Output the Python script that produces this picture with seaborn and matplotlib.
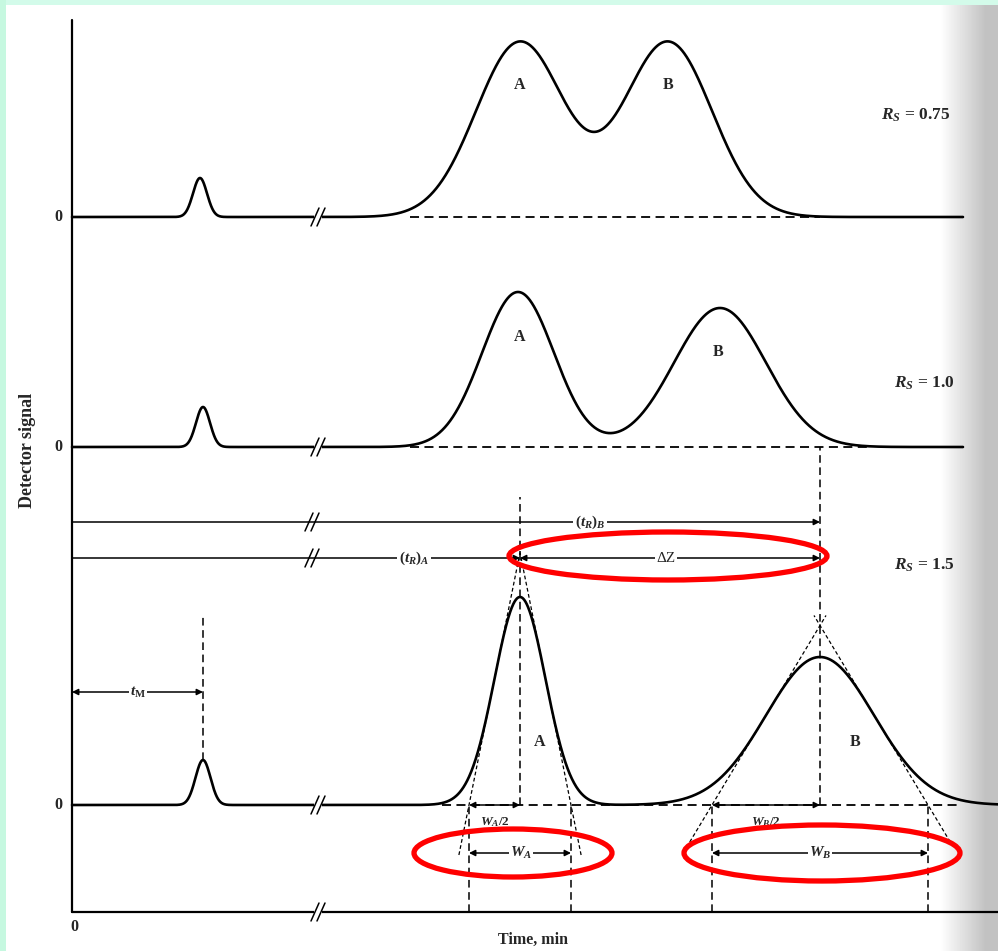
import numpy as np
import pandas as pd
import matplotlib
matplotlib.use("Agg")
import matplotlib.pyplot as plt
import seaborn as sns
from matplotlib.patches import Ellipse, Rectangle

# ---------------- data (time units, signal units) ----------------
rs_values = ["0.75", "1.0", "1.5"]
trace_baseline = [69.5, 46.5, 10.7]      # vertical offset of each chromatogram
void_time = [12.8, 13.1, 13.1]
void_height = [3.9, 4.0, 4.5]
void_sd = [0.7, 0.7, 0.75]
peakA_time = [44.8, 44.6, 44.8]
peakA_height = [17.5, 15.5, 20.8]
peakA_sd = [4.4, 3.6, 2.55]
peakB_time = [59.6, 64.8, 74.8]
peakB_height = [17.5, 13.9, 14.8]
peakB_sd = [4.4, 4.6, 5.4]
trace_end = [89.1, 89.1, 92.6]

# ---------------- style ----------------
sns.set_style("white")
plt.rcParams["font.family"] = ["Liberation Serif", "DejaVu Serif"]
plt.rcParams["mathtext.fontset"] = "custom"
plt.rcParams["mathtext.rm"] = "Liberation Serif:bold"
plt.rcParams["mathtext.it"] = "Liberation Serif:italic:bold"
plt.rcParams["mathtext.bf"] = "Liberation Serif:bold"

W, H = 998, 951
fig = plt.figure(figsize=(W / 100, H / 100), dpi=100)
fig.patch.set_facecolor("white")

# scanned page edge (grey) on the right
gax = fig.add_axes([0, 0, 1, 1], zorder=0)
xs = np.arange(W)
g = np.clip((xs - 940) / 45.0, 0, 1)
grad = np.tile(1 - 0.24 * g, (2, 1))
gax.imshow(grad, cmap="gray", vmin=0, vmax=1, aspect="auto", extent=[0, W, H, 0])
gax.set_axis_off()

ax = fig.add_axes([0, 0, 1, 1], zorder=1)
ax.patch.set_alpha(0)
# 1 unit = 10 px, origin at chart origin
ax.set_xlim(-7.2, 92.6)
ax.set_ylim(-3.9, 91.2)
ax.set_axis_off()

LW = 1.9
THIN = 1.1
DASH = (0, (5, 3))
FS = 11.5

# ---------------- chromatograms via seaborn ----------------
def gauss(t, c, h, s):
    return h * np.exp(-0.5 * ((t - c) / s) ** 2)

frames = []
for i in range(3):
    t = np.linspace(0, trace_end[i], 3000)
    sig = (trace_baseline[i]
           + gauss(t, void_time[i], void_height[i], void_sd[i])
           + gauss(t, peakA_time[i], peakA_height[i], peakA_sd[i])
           + gauss(t, peakB_time[i], peakB_height[i], peakB_sd[i]))
    frames.append(pd.DataFrame({"time": t, "signal": sig, "trace": rs_values[i]}))
df = pd.concat(frames, ignore_index=True)
sns.lineplot(data=df, x="time", y="signal", units="trace", estimator=None,
             color="black", lw=LW, sort=False, ax=ax, legend=False)

# dashed baselines under peaks
dash_ranges = [(33.8, 74.8), (33.8, 79.8), (37.0, 89.0)]
for i, (a, b) in enumerate(dash_ranges):
    ax.plot([a, b], [trace_baseline[i]] * 2, color="black", lw=1.3, ls=DASH, zorder=1)

# axes lines
ax.plot([0, 0], [0, 89.2], color="black", lw=1.6)
ax.plot([0, 92.6], [0, 0], color="black", lw=1.6)

def brk(x, y):
    ax.add_patch(Rectangle((x - 0.4, y - 0.5), 0.8, 1.0, fc="white", ec="none", zorder=3))
    for dx in (-0.3, 0.3):
        ax.plot([x + dx - 0.4, x + dx + 0.4], [y - 0.9, y + 0.9], color="black", lw=1.1, zorder=4)

for y in trace_baseline + [0]:
    brk(24.6, y)

# zero labels
for y in trace_baseline:
    ax.text(-1.4, y, "0", ha="center", va="center", fontsize=FS, fontweight="bold")
ax.text(0.2, -1.5, "0", ha="center", va="center", fontsize=FS, fontweight="bold")

ax.text(-4.4, 46.2, "Detector signal", rotation=90, ha="center", va="center",
        fontsize=13, fontweight="bold")
ax.text(46.1, -2.8, "Time, min", ha="center", va="center", fontsize=FS, fontweight="bold")

# peak labels
peak_label_pos = [((44.8, 82.7), (59.6, 82.7)), ((44.8, 57.5), (64.6, 56.0)),
                  ((46.8, 17.0), (78.3, 17.0))]
for (pa, pb) in peak_label_pos:
    ax.text(*pa, "A", ha="center", va="center", fontsize=FS, fontweight="bold")
    ax.text(*pb, "B", ha="center", va="center", fontsize=FS, fontweight="bold")

rs_pos = [(84.4, 79.7), (85.2, 52.9), (85.2, 34.7)]
for (px, py), v in zip(rs_pos, rs_values):
    ax.text(px, py, r"$R_S$" + " = " + v, ha="center", va="center",
            fontsize=12.5, fontweight="bold")

def arrow(x0, y0, x1, y1, style="-|>"):
    ax.annotate("", xy=(x1, y1), xytext=(x0, y0),
                arrowprops=dict(arrowstyle=style, color="black", lw=THIN,
                                mutation_scale=9, shrinkA=0, shrinkB=0), zorder=4)

def label(x, y, s, size=11):
    ax.text(x, y, s, ha="center", va="center", fontsize=size, zorder=5,
            bbox=dict(fc="white", ec="none", pad=1.0))

# ---------------- annotations on the Rs = 1.5 trace ----------------
b3 = trace_baseline[2]
tA, hA, sA = peakA_time[2], peakA_height[2], peakA_sd[2]
tB, hB, sB = peakB_time[2], peakB_height[2], peakB_sd[2]
tM = void_time[2]

# retention-time lines
yRB, yRA = 39.0, 35.4
arrow(0, yRB, tB, yRB)
arrow(0, yRA, tA, yRA)
arrow(tA, yRA, tB, yRA, style="<|-|>")
brk(24.0, yRB)
brk(24.0, yRA)
label(51.8, yRB, r"$(t_R)_B$")
label(34.2, yRA, r"$(t_R)_A$")
label(59.4, yRA, "ΔZ")

# vertical dashed centre lines
ax.plot([tA, tA], [b3, 41.5], color="black", lw=THIN, ls=DASH, zorder=2)
ax.plot([tB, tB], [b3, trace_baseline[1]], color="black", lw=THIN, ls=DASH, zorder=2)

# t_M
ax.plot([tM, tM], [b3 + void_height[2], 29.7], color="black", lw=THIN, ls=DASH)
arrow(0, 22.0, tM, 22.0, style="<|-|>")
label(6.6, 22.0, r"$t_\mathrm{M}$")

# tangent lines
def tangents(tc, h, sd, base, below, above):
    apex = base + 2 * h * np.exp(-0.5)
    for sgn in (-1, 1):
        def xat(s):
            return tc + sgn * 2 * sd - sgn * (s - base) / (apex - base) * 2 * sd
        s0, s1 = base - below, apex + above
        ax.plot([xat(s0), xat(s1)], [s0, s1], color="black", lw=0.9,
                ls=(0, (3, 2)), zorder=2)

tangents(tA, hA, sA, b3, 5.0, 1.0)
tangents(tB, hB, sB, b3, 3.7, 1.0)

# width verticals
for x in (tA - 2 * sA, tA + 2 * sA, tB - 2 * sB, tB + 2 * sB):
    ax.plot([x, x], [0, b3], color="black", lw=THIN, ls=DASH, zorder=2)

# half widths on baseline
arrow(tA - 2 * sA, b3, tA, b3, style="<|-|>")
arrow(tB - 2 * sB, b3, tB, b3, style="<|-|>")
ax.text(tA - sA, 9.0, r"$W_A/2$", ha="center", va="center", fontsize=9.5)
ax.text(tB - sB, 9.0, r"$W_B/2$", ha="center", va="center", fontsize=9.5)

# full widths
yW = 5.9
arrow(tA - 2 * sA, yW, tA + 2 * sA, yW, style="<|-|>")
arrow(tB - 2 * sB, yW, tB + 2 * sB, yW, style="<|-|>")
label(tA + 0.1, yW, r"$W_A$")
label(tB, yW, r"$W_B$")

# red highlight ellipses
for (cx, cy, w, h) in [(59.6, 35.6, 31.8, 4.8), (44.1, 5.9, 19.8, 4.8), (75.0, 5.9, 27.6, 5.6)]:
    ax.add_patch(Ellipse((cx, cy), w, h, fill=False, ec="#ff0000", lw=3.8, zorder=6))

# mint border of the screenshot
fig.patches.append(Rectangle((0, 1 - 5 / H), 1, 5 / H, transform=fig.transFigure,
                             fc="#d3fbea", ec="none", zorder=10))
fig.patches.append(Rectangle((0, 0), 6 / W, 1, transform=fig.transFigure,
                             fc="#c6f8e0", ec="none", zorder=10))

fig.savefig("out.png", dpi=100)
